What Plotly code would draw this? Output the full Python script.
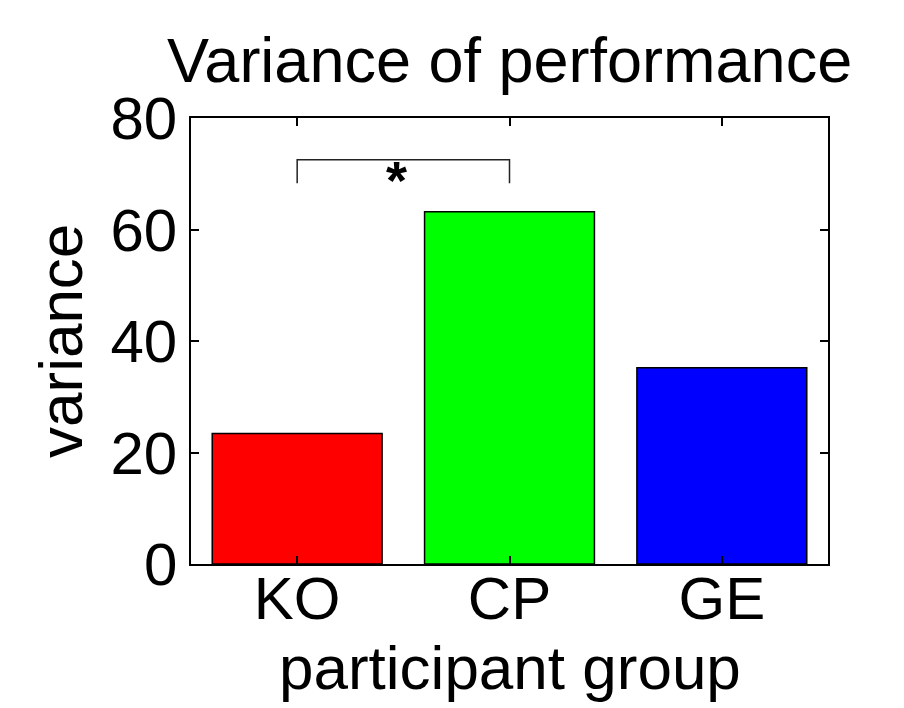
import plotly.graph_objects as go

groups = ["KO", "CP", "GE"]
positions = [1, 2, 3]
variance = [23.4, 63.2, 35.2]
bar_colors = ["#FF0000", "#00FF00", "#0000FF"]
y_ticks = [0, 20, 40, 60, 80]

sig_from, sig_to = 1, 2
sig_low, sig_high = 68.3, 72.5
sig_label = "<b>*</b>"

FONT = "Liberation Sans, Arial, Helvetica, sans-serif"

fig = go.Figure()
fig.add_trace(go.Bar(
    x=positions, y=variance, width=0.8,
    marker=dict(color=bar_colors, line=dict(color="black", width=1.5)),
    showlegend=False,
))

# significance bracket
fig.add_trace(go.Scatter(
    x=[sig_from, sig_from, sig_to, sig_to],
    y=[sig_low, sig_high, sig_high, sig_low],
    mode="lines", line=dict(color="#222222", width=1.5), showlegend=False,
    hoverinfo="skip",
))
fig.add_annotation(x=(sig_from + sig_to) / 2 - 0.03, y=(sig_low + sig_high) / 2,
                   text=sig_label, showarrow=False, xref="x", yref="y",
                   font=dict(size=54, color="black", family=FONT),
                   yanchor="middle", yshift=-8)

# page body has an 8px margin: plot area placed so it lands at x 191-828, y 118-564
fig.update_layout(
    width=904, height=708,
    margin=dict(l=183, r=84, t=110, b=152),
    paper_bgcolor="white", plot_bgcolor="white",
    font=dict(family=FONT, color="black", size=60),
    xaxis=dict(range=[0.5, 3.5], tickvals=positions, ticktext=groups,
               ticks="inside", ticklen=8, tickwidth=1.5, tickcolor="black",
               showline=True, linecolor="black", linewidth=1.5, mirror="ticks",
               showgrid=False, zeroline=False, tickfont=dict(size=60),
               ticklabelstandoff=-19),
    yaxis=dict(range=[0, 80], tickvals=y_ticks,
               ticks="inside", ticklen=8, tickwidth=1.5, tickcolor="black",
               showline=True, linecolor="black", linewidth=1.5, mirror="ticks",
               showgrid=False, zeroline=False, tickfont=dict(size=60),
               ticklabelstandoff=0),
)

fig.add_annotation(text="Variance of performance", xref="paper", yref="paper",
                   x=0.5, y=1, xanchor="center", yanchor="bottom", yshift=21,
                   showarrow=False, font=dict(size=63))
fig.add_annotation(text="variance", xref="paper", yref="paper",
                   x=0, y=0.5, xanchor="center", yanchor="middle", xshift=-131,
                   textangle=-90, showarrow=False, font=dict(size=62))
fig.add_annotation(text="participant group", xref="paper", yref="paper",
                   x=0.5, y=0, xanchor="center", yanchor="top", yshift=-67,
                   showarrow=False, font=dict(size=62))

fig.write_html("out.html")
